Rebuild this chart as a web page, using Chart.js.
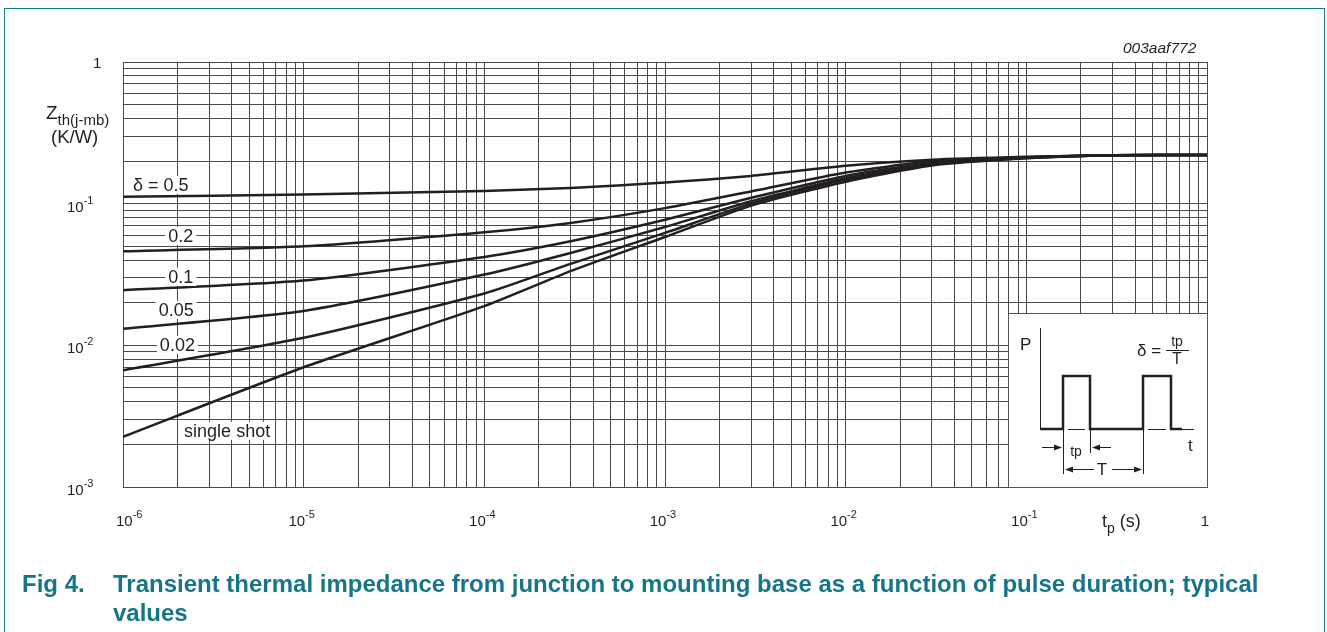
<!DOCTYPE html>
<html>
<head>
<meta charset="utf-8">
<script src="https://cdn.jsdelivr.net/npm/chart.js@4.4.1/dist/chart.umd.min.js"></script>
<style>
  html, body { margin: 0; padding: 0; background: #fff; }
  body { width: 1327px; height: 632px; position: relative; overflow: hidden; font-family: "Liberation Sans", Arial, sans-serif; }
  #frame { position: absolute; left: 4px; top: 8px; width: 1321px; height: 700px; border: 1.5px solid #137d8f; box-sizing: border-box; }
  #grafico { position: absolute; left: 0; top: 0; }
  .txt { position: absolute; color: #231f20; white-space: nowrap; line-height: 1; }
  .caption { position: absolute; color: #167589; font-weight: bold; font-size: 24px; white-space: nowrap; line-height: 1; font-family: "Liberation Sans", Arial, sans-serif; }
</style>
</head>
<body>
<div id="frame"></div>
<canvas id="grafico" width="1327" height="632"></canvas>

<div class="txt" style="left:46px; top:103px; font-size:19px;">Z<span style="font-size:15px; position:relative; top:6px;">th(j-mb)</span></div>
<div class="txt" style="left:51px; top:128px; font-size:18.5px;">(K/W)</div>
<div class="txt" style="left:1102px; top:512px; font-size:18px;">t<span style="font-size:14px; position:relative; top:6px;">p</span> (s)</div>
<div class="txt" style="left:1123px; top:40px; font-size:15.5px; font-style:italic;">003aaf772</div>

<div class="caption" style="left:22px; top:572px;">Fig 4.</div>
<div class="caption" style="left:113px; top:572px;">Transient thermal impedance from junction to mounting base as a function of pulse duration; typical</div>
<div class="caption" style="left:113px; top:601px;">values</div>

<script>
// ========== DADOS ==========

// duração do pulso tp (s)
const tpSeconds = [1e-6, 1e-5, 1e-4, 3e-4, 1e-3, 3e-3, 1e-2, 3e-2, 1e-1, 3e-1, 1];

// Zth(j-mb) em K/W, uma lista por ciclo de trabalho
const zthDelta05 = [0.112, 0.116, 0.123, 0.129, 0.141, 0.157, 0.185, 0.204, 0.214, 0.220, 0.221];
const zthDelta02 = [0.0461, 0.050, 0.0628, 0.0731, 0.093, 0.122, 0.166, 0.199, 0.213, 0.220, 0.221];
const zthDelta01 = [0.0245, 0.0287, 0.0421, 0.0543, 0.077, 0.110, 0.157, 0.194, 0.212, 0.220, 0.221];
const zthDelta005 = [0.0131, 0.0175, 0.0316, 0.0449, 0.0685, 0.104, 0.151, 0.191, 0.211, 0.220, 0.221];
const zthDelta002 = [0.00667, 0.0113, 0.0232, 0.0376, 0.0622, 0.100, 0.148, 0.189, 0.210, 0.220, 0.221];
const zthSingle = [0.00226, 0.0070, 0.0189, 0.0334, 0.0582, 0.0968, 0.143, 0.186, 0.209, 0.220, 0.221];

const seriesNames = ['δ = 0.5', '0.2', '0.1', '0.05', '0.02', 'single shot'];
const seriesValues = [zthDelta05, zthDelta02, zthDelta01, zthDelta005, zthDelta002, zthSingle];

// expoentes das marcas principais
const xDecades = [-6, -5, -4, -3, -2, -1, 0];
const yDecades = [-3, -2, -1, 0];

// onde cada rótulo de curva fica (tp, Zth)
const labelSpotsX = [1.62e-6, 2.09e-6, 2.09e-6, 1.97e-6, 2.0e-6, 3.77e-6];
const labelSpotsY = [0.1355, 0.0592, 0.0304, 0.01778, 0.01007, 0.00249];

const ink = '#231f20';
const gridColor = '#4a4a4a';
const fontFam = '"Liberation Sans", Arial, sans-serif';

// ========== PLUGINS ==========

function logTicks(minExp, maxExp) {
    const t = [];
    for (let e = minExp; e < maxExp; e++) {
        for (let m = 1; m < 10; m++) t.push({ value: m * Math.pow(10, e) });
    }
    t.push({ value: Math.pow(10, maxExp) });
    return t;
}

// desenha "10" com expoente sobrescrito
function drawPower(ctx, left, baseline, e) {
    if (e === 0) {
        ctx.font = '15px ' + fontFam;
        ctx.fillText('1', left, baseline);
        return ctx.measureText('1').width;
    }
    ctx.font = '15px ' + fontFam;
    ctx.fillText('10', left, baseline);
    const w1 = ctx.measureText('10').width;
    ctx.font = '11px ' + fontFam;
    ctx.fillText(String(e), left + w1, baseline - 8);
    return w1 + ctx.measureText(String(e)).width;
}

function powerWidth(ctx, e) {
    ctx.font = '15px ' + fontFam;
    if (e === 0) return ctx.measureText('1').width;
    const w1 = ctx.measureText('10').width;
    ctx.font = '11px ' + fontFam;
    return w1 + ctx.measureText(String(e)).width;
}

const tickLabels = {
    id: 'tickLabels',
    afterDraw(chart) {
        const { ctx, chartArea, scales: { x, y } } = chart;
        ctx.save();
        ctx.fillStyle = ink;
        ctx.textAlign = 'left';
        ctx.textBaseline = 'alphabetic';
        xDecades.forEach((e, i) => {
            const px = x.getPixelForValue(Math.pow(10, e));
            const w = powerWidth(ctx, e);
            let left = px - w / 2 - 2;
            if (i === 0) left = chartArea.left - 7;
            drawPower(ctx, left, chartArea.bottom + 39, e);
        });
        yDecades.forEach(e => {
            const py = y.getPixelForValue(Math.pow(10, e));
            if (e === 0) drawPower(ctx, 93, py + 6, e);
            else drawPower(ctx, 67, py + 8, e);
        });
        ctx.restore();
    }
};

const curveLabels = {
    id: 'curveLabels',
    afterDatasetsDraw(chart) {
        const { ctx, scales: { x, y } } = chart;
        ctx.save();
        ctx.font = '18px ' + fontFam;
        ctx.textAlign = 'center';
        ctx.textBaseline = 'middle';
        seriesNames.forEach((name, i) => {
            const px = x.getPixelForValue(labelSpotsX[i]);
            const py = y.getPixelForValue(labelSpotsY[i]);
            const w = ctx.measureText(name).width;
            ctx.fillStyle = '#fff';
            ctx.fillRect(px - w / 2 - 3, py - 9, w + 6, 18);
            ctx.fillStyle = ink;
            ctx.fillText(name, px, py + 1);
        });
        ctx.restore();
    }
};

// quadro com o trem de pulsos
function arrow(ctx, x1, y1, x2) {
    const dir = x2 > x1 ? 1 : -1;
    ctx.beginPath();
    ctx.moveTo(x1, y1);
    ctx.lineTo(x2 - dir * 6, y1);
    ctx.stroke();
    ctx.beginPath();
    ctx.moveTo(x2, y1);
    ctx.lineTo(x2 - dir * 8, y1 - 3);
    ctx.lineTo(x2 - dir * 8, y1 + 3);
    ctx.closePath();
    ctx.fill();
}

const pulseInset = {
    id: 'pulseInset',
    afterDraw(chart) {
        const { ctx, chartArea } = chart;
        const bx = chartArea.right - 199, by = chartArea.bottom - 174;
        ctx.save();
        ctx.fillStyle = '#fff';
        ctx.fillRect(bx, by, chartArea.right - bx, chartArea.bottom - by);
        ctx.strokeStyle = '#555';
        ctx.lineWidth = 1;
        ctx.strokeRect(bx + 0.5, by + 0.5, chartArea.right - bx, chartArea.bottom - by);

        ctx.strokeStyle = ink;
        ctx.fillStyle = ink;
        // eixo P
        ctx.lineWidth = 1;
        ctx.beginPath();
        ctx.moveTo(bx + 32.5, by + 15);
        ctx.lineTo(bx + 32.5, by + 116);
        ctx.stroke();
        // linha t fina
        ctx.beginPath();
        ctx.moveTo(bx + 174, by + 116.5); ctx.lineTo(bx + 186, by + 116.5);
        ctx.moveTo(bx + 60, by + 116.5); ctx.lineTo(bx + 77, by + 116.5);
        ctx.moveTo(bx + 140, by + 116.5); ctx.lineTo(bx + 158, by + 116.5);
        ctx.stroke();
        // pulsos
        ctx.lineWidth = 2.5;
        ctx.lineJoin = 'miter';
        ctx.beginPath();
        ctx.moveTo(bx + 32, by + 116);
        ctx.lineTo(bx + 55, by + 116);
        ctx.lineTo(bx + 55, by + 63);
        ctx.lineTo(bx + 82, by + 63);
        ctx.lineTo(bx + 82, by + 116);
        ctx.lineTo(bx + 135, by + 116);
        ctx.lineTo(bx + 135, by + 63);
        ctx.lineTo(bx + 163, by + 63);
        ctx.lineTo(bx + 163, by + 116);
        ctx.lineTo(bx + 174, by + 116);
        ctx.stroke();
        // cotas
        ctx.lineWidth = 1;
        ctx.beginPath();
        ctx.moveTo(bx + 55.5, by + 116); ctx.lineTo(bx + 55.5, by + 161);
        ctx.moveTo(bx + 82.5, by + 116); ctx.lineTo(bx + 82.5, by + 140);
        ctx.moveTo(bx + 135.5, by + 116); ctx.lineTo(bx + 135.5, by + 161);
        ctx.stroke();
        arrow(ctx, bx + 34, by + 134.5, bx + 54);
        arrow(ctx, bx + 103, by + 134.5, bx + 84);
        arrow(ctx, bx + 86, by + 156.5, bx + 57);
        arrow(ctx, bx + 104, by + 156.5, bx + 134);

        ctx.font = '17px ' + fontFam;
        ctx.textBaseline = 'middle';
        ctx.textAlign = 'left';
        ctx.fillText('P', bx + 12, by + 32);
        ctx.fillText('t', bx + 180, by + 133);
        ctx.fillText('δ =', bx + 129, by + 38);
        ctx.textAlign = 'center';
        ctx.fillText('T', bx + 94, by + 157);
        ctx.font = '14px ' + fontFam;
        ctx.fillText('tp', bx + 68, by + 139);
        ctx.fillText('tp', bx + 169, by + 29);
        ctx.font = '16px ' + fontFam;
        ctx.fillText('T', bx + 169, by + 47);
        ctx.beginPath();
        ctx.moveTo(bx + 158, by + 37.5);
        ctx.lineTo(bx + 181, by + 37.5);
        ctx.stroke();
        ctx.restore();
    }
};

// ========== GRÁFICO ==========

const eixoComum = {
    type: 'logarithmic',
    ticks: { display: false },
    grid: { color: gridColor, lineWidth: 1, drawTicks: false },
    border: { display: true, color: gridColor, width: 1 },
    title: { display: false }
};

new Chart(document.getElementById('grafico'), {
    type: 'line',
    data: {
        datasets: seriesValues.map((vals, i) => ({
            label: seriesNames[i],
            data: tpSeconds.map((t, k) => ({ x: t, y: vals[k] })),
            borderColor: ink,
            borderWidth: 2.5,
            pointRadius: 0,
            tension: 0.2,
            fill: false
        }))
    },
    options: {
        responsive: false,
        animation: false,
        devicePixelRatio: 1,
        layout: { padding: { left: 123, right: 120, top: 62, bottom: 145 } },
        plugins: { legend: { display: false }, tooltip: { enabled: false } },
        scales: {
            x: Object.assign({}, eixoComum, {
                min: 1e-6, max: 1,
                afterBuildTicks: scale => { scale.ticks = logTicks(-6, 0); }
            }),
            y: Object.assign({}, eixoComum, {
                min: 1e-3, max: 1,
                afterBuildTicks: scale => { scale.ticks = logTicks(-3, 0); }
            })
        }
    },
    plugins: [curveLabels, tickLabels, pulseInset]
});
</script>
</body>
</html>
